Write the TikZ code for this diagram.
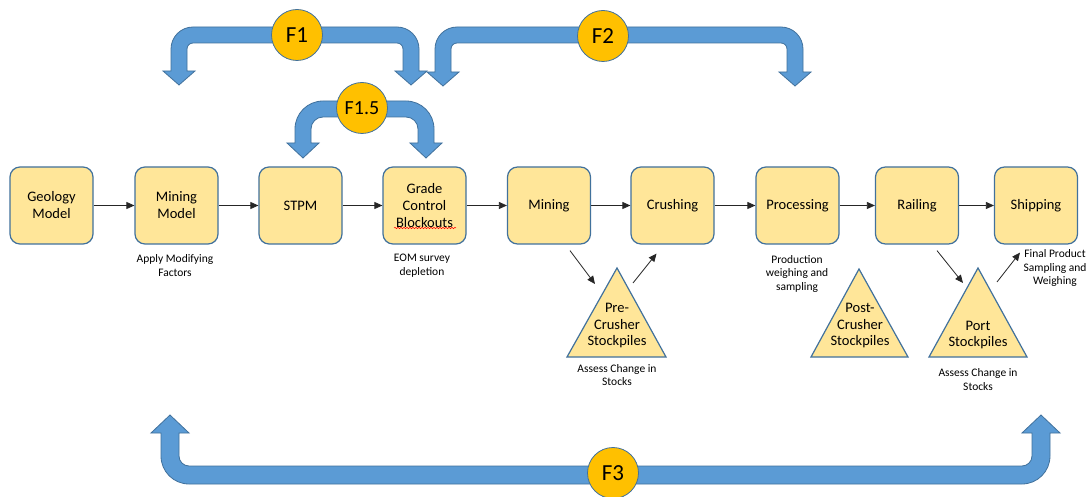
\documentclass[tikz,border=0pt]{standalone}
\usepackage{fontspec}
\setmainfont{Carlito}
\usetikzlibrary{arrows.meta,calc,decorations.pathmorphing}

\definecolor{boxgold}{HTML}{FFE699}
\definecolor{edgeblue}{HTML}{41719C}
\definecolor{arrowblue}{HTML}{5B9BD5}
\definecolor{ringgold}{HTML}{FFC000}

\tikzset{
	stage/.style={rectangle, rounded corners=10pt, fill=boxgold, draw=edgeblue, line width=1.2pt, minimum width=83pt, minimum height=77pt, inner sep=1pt, align=center, font=\fontsize{14.5}{17}\selectfont},
	pile/.style={fill=boxgold, draw=edgeblue, line width=1.2pt, line join=miter},
	piletext/.style={align=center, inner sep=0pt, font=\fontsize{14.5}{16.5}\selectfont},
	note/.style={align=center, inner sep=0pt, font=\fontsize{11.5}{13.5}\selectfont},
	bigarrow/.style={fill=arrowblue, draw=edgeblue, line width=0.8pt},
	fring/.style={circle, fill=ringgold, draw=edgeblue, line width=0.8pt, minimum size=51pt, inner sep=0pt, font=\fontsize{23}{26}\selectfont},
	flow/.style={draw=black!85, line width=0.8pt, -{Triangle[length=8pt,width=7pt]}}
}

\begin{document}
\begin{tikzpicture}[x=1pt,y=-1pt]
\path[use as bounding box, fill=white] (0,0) rectangle (1088,497);

% feedback arrows
\draw[bigarrow] (179,85) -- (163,71) -- (171,71) -- (171,49) arc[start angle=180,end angle=270,radius=22] -- (397,27) arc[start angle=270,end angle=360,radius=22] -- (419,71) -- (427,71) -- (411,85) -- (395,71) -- (403,71) -- (403,49) arc[start angle=0,end angle=-90,radius=6] -- (193,43) arc[start angle=270,end angle=180,radius=6] -- (187,71) -- (195,71) -- cycle;
\draw[bigarrow] (443,86) -- (427,72) -- (435,72) -- (435,49) arc[start angle=180,end angle=270,radius=22] -- (781,27) arc[start angle=270,end angle=360,radius=22] -- (803,72) -- (811,72) -- (795,86) -- (779,72) -- (787,72) -- (787,49) arc[start angle=0,end angle=-90,radius=6] -- (457,43) arc[start angle=270,end angle=180,radius=6] -- (451,72) -- (459,72) -- cycle;
\draw[bigarrow] (303,158) -- (287,143) -- (295,143) -- (295,129) arc[start angle=180,end angle=270,radius=28] -- (406,101) arc[start angle=270,end angle=360,radius=28] -- (434,143) -- (442,143) -- (426,158) -- (410,143) -- (418,143) -- (418,129) arc[start angle=0,end angle=-90,radius=12] -- (323,117) arc[start angle=270,end angle=180,radius=12] -- (311,143) -- (319,143) -- cycle;
\draw[bigarrow] (170,415) -- (189,433) -- (179,433) -- (179,456) arc[start angle=180,end angle=90,radius=10] -- (1022,466) arc[start angle=90,end angle=0,radius=10] -- (1032,433) -- (1022,433) -- (1041,415) -- (1060,433) -- (1050,433) -- (1050,456) arc[start angle=0,end angle=90,radius=28] -- (189,484) arc[start angle=90,end angle=180,radius=28] -- (161,433) -- (151,433) -- cycle;

\node[fring] (f1) at (297,35) {F1};
\node[fring] (f2) at (603,36) {F2};
\node[fring, font=\fontsize{20}{23}\selectfont] (f15) at (362,108) {F1.5};
\node[fring] (f3) at (613,473) {F3};

% process chain
\node[stage] (geo) at (51.5,205.5) {Geology\\Model};
\node[stage] (mm) at (176.5,205.5) {Mining\\Model};
\node[stage] (stpm) at (300.5,205.5) {STPM};
\node[stage] (gc) at (424.5,205.5) {Grade\\Control\\Blockouts};
\node[stage] (mine) at (549,205.5) {Mining};
\node[stage] (crush) at (672.5,205.5) {Crushing};
\node[stage] (proc) at (797.5,205.5) {Processing};
\node[stage] (rail) at (917,205.5) {Railing};
\node[stage] (ship) at (1036,205.5) {Shipping};

\draw[red, line width=0.5pt, decorate, decoration={snake, segment length=3pt, amplitude=0.7pt}] (394,228) -- (456,228);

\draw[flow] (geo.east) -- (mm.west);
\draw[flow] (mm.east) -- (stpm.west);
\draw[flow] (stpm.east) -- (gc.west);
\draw[flow] (gc.east) -- (mine.west);
\draw[flow] (mine.east) -- (crush.west);
\draw[flow] (crush.east) -- (proc.west);
\draw[flow] (proc.east) -- (rail.west);
\draw[flow] (rail.east) -- (ship.west);

% stockpiles
\draw[pile] (617,268) -- (666,357) -- (567,357) -- cycle;
\draw[pile] (859,269) -- (908,357) -- (811,357) -- cycle;
\draw[pile] (978,268) -- (1027,357) -- (929,357) -- cycle;
\node[piletext] (pre) at (617,326) {Pre-\\Crusher\\Stockpiles};
\node[piletext] (post) at (860,326) {Post-\\Crusher\\Stockpiles};
\node[piletext] (port) at (978,335) {Port\\Stockpiles};

\coordinate (prein) at (595,284);
\coordinate (preout) at (633,283);
\coordinate (portin) at (963,283);
\coordinate (portout) at (997,282);

\draw[flow] ([xshift=21pt,yshift=-6pt]mine.south) -- (prein);
\draw[flow] (preout) -- ([xshift=-16pt,yshift=-9pt]crush.south);
\draw[flow] ([xshift=20pt,yshift=-6pt]rail.south) -- (portin);
\draw[flow] (portout) -- ([xshift=-16pt,yshift=-8pt]ship.south);

% notes
\node[note] (mmnote) at (175,265.5) {Apply Modifying\\Factors};
\node[note] (gcnote) at (422,265.5) {EOM survey\\depletion};
\node[note] (procnote) at (797,273.5) {Production\\weighing and\\sampling};
\node[note] (shipnote) at (1055,268) {Final Product\\Sampling and\\Weighing};
\node[note] (prenote) at (617,375) {Assess Change in\\Stocks};
\node[note] (portnote) at (978,379.5) {Assess Change in\\Stocks};

\end{tikzpicture}
\end{document}
